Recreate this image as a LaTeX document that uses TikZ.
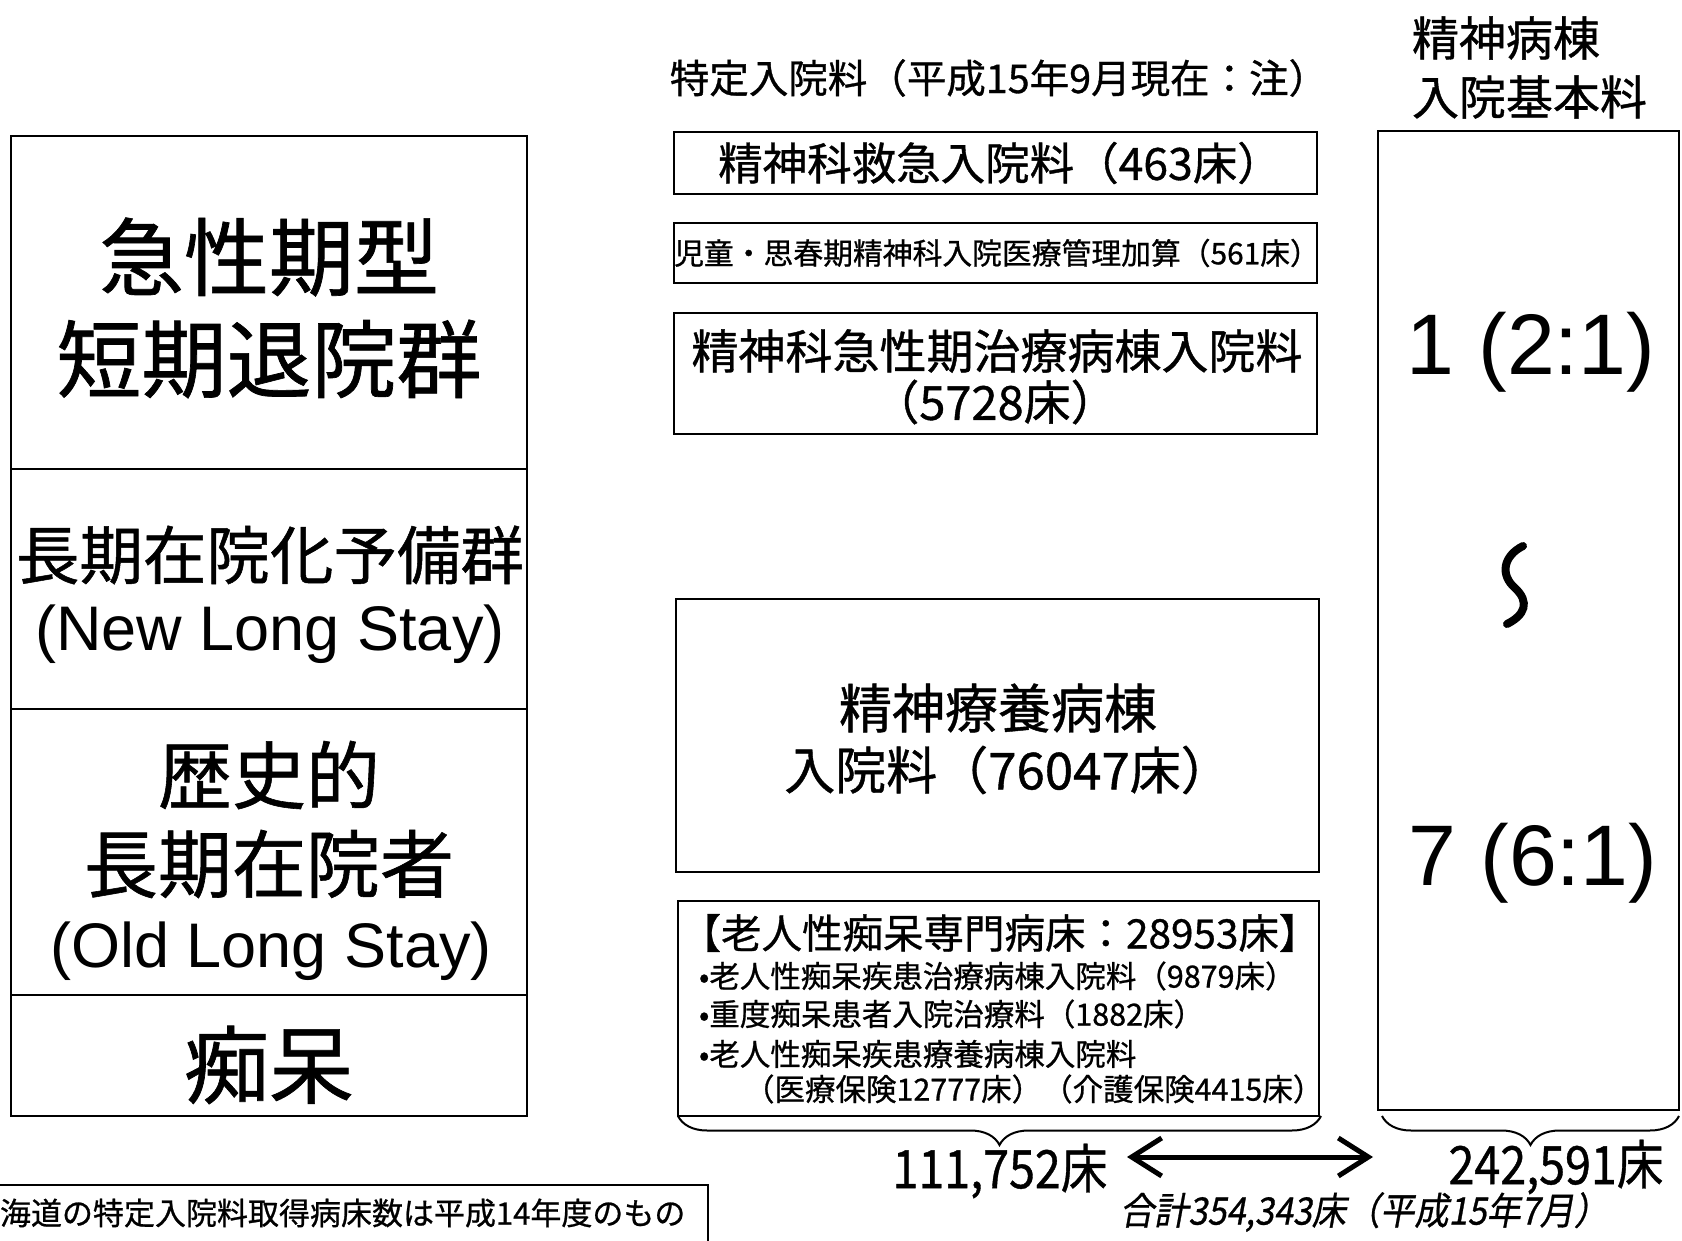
\documentclass[tikz,border=0pt]{standalone}
\usepackage{fontspec}
\setmainfont[FakeBold=0.8]{Noto Sans CJK JP}
\newfontfamily\arial{Liberation Sans}
\newfontfamily\jpit[FakeSlant=0.2,FakeBold=0.8]{Noto Sans CJK JP}
\usetikzlibrary{arrows.meta,decorations.pathreplacing}
\newcommand\fs[1]{\fontsize{#1}{#1}\selectfont}
\tikzset{
  cell/.style={draw, line width=2pt, inner sep=0pt, outer sep=0pt, anchor=north west},
  txt/.style={inner sep=0pt, outer sep=0pt, anchor=center},
  ltxt/.style={inner sep=0pt, outer sep=0pt, anchor=west},
  brc/.style={decorate, decoration={brace, mirror, amplitude=29pt}, line width=2pt},
  dbl/.style={{Straight Barb[length=30pt,width=38pt]}-{Straight Barb[length=30pt,width=38pt]}, line width=5pt}
}
\begin{document}
\begin{tikzpicture}[x=1pt,y=-1pt]
\useasboundingbox (0,0) rectangle (1682,1241);
% left column
\node[cell, minimum width=516pt, minimum height=333pt] (c1) at (11,136) {};
\node[cell, minimum width=516pt, minimum height=240pt] (c2) at (11,469) {};
\node[cell, minimum width=516pt, minimum height=286pt] (c3) at (11,709) {};
\node[cell, minimum width=516pt, minimum height=121pt] (c4) at (11,995) {};
\node[txt] (t1a) at (269,257) {\fs{85}急性期型};
\node[txt] (t1b) at (269,359) {\fs{85}短期退院群};
\node[txt] (t2a) at (270,555) {\fs{63.5}長期在院化予備群};
\node[txt] (t2b) at (270,634) {\arial\fs{63}(New Long Stay)};
\node[txt] (t3a) at (269,775) {\fs{74}歴史的};
\node[txt] (t3b) at (269,864) {\fs{74}長期在院者};
\node[txt] (t3c) at (271,951) {\arial\fs{63}(Old Long Stay)};
\node[txt] (t4) at (269,1065) {\fs{85}痴呆};
% middle column
\node[txt] (hm) at (999,78) {\fs{39.5}特定入院料（平成15年9月現在：注）};
\node[cell, minimum width=643pt, minimum height=62pt] (b1) at (674,132) {};
\node[txt] (b1t) at (1000,163) {\fs{44.5}精神科救急入院料（463床）};
\node[cell, minimum width=643pt, minimum height=60pt] (b2) at (674,223) {};
\node[txt] (b2t) at (997,253) {\fs{29.8}児童・思春期精神科入院医療管理加算（561床）};
\node[cell, minimum width=643pt, minimum height=121pt] (b3) at (674,313) {};
\node[txt] (b3a) at (997,351) {\fs{47}精神科急性期治療病棟入院料};
\node[txt] (b3b) at (995,402) {\fs{47}（5728床）};
\node[cell, minimum width=643pt, minimum height=273pt] (b4) at (676,599) {};
\node[txt] (b4a) at (998,708) {\fs{53}精神療養病棟};
\node[txt] (b4b) at (1008,770) {\fs{51}入院料（76047床）};
\node[cell, minimum width=641pt, minimum height=215pt] (b5) at (678,901) {};
\node[txt] (b5a) at (1000,933) {\fs{40.5}【老人性痴呆専門病床：28953床】};
\node[ltxt] (b5b) at (699,976) {\fs{30.5}•老人性痴呆疾患治療病棟入院料（9879床）};
\node[ltxt] (b5c) at (699,1014) {\fs{30.5}•重度痴呆患者入院治療料（1882床）};
\node[ltxt] (b5d) at (699,1054) {\fs{30.5}•老人性痴呆疾患療養病棟入院料};
\node[ltxt] (b5e) at (744,1089) {\fs{30.5}（医療保険12777床）（介護保険4415床）};
% right column
\node[ltxt] (hr1) at (1412,38) {\fs{47}精神病棟};
\node[ltxt] (hr2) at (1412,97) {\fs{47}入院基本料};
\node[cell, minimum width=301pt, minimum height=979pt] (rb) at (1378,131) {};
\node[txt] (r1) at (1531,352) {\arial\fs{86}1 (2:1)};
\node[txt] (r7) at (1533,863) {\arial\fs{86}7 (6:1)};
\draw[line width=8pt, line cap=round] (1523,546) .. controls (1503,556) and (1500,575) .. (1515,588) .. controls (1530,602) and (1525,615) .. (1507,624);
% bottom
\draw[brc] (678,1116) -- (1321,1116);
\draw[brc] (1382,1116) -- (1679,1116);
\node[txt] (n1) at (1000,1171) {\scalebox{0.88}[1]{\fs{53}111,752床}};
\node[txt] (n2) at (1556,1167) {\scalebox{0.88}[1]{\fs{53}242,591床}};
\coordinate (aL) at (1127,1157);
\coordinate (aR) at (1373,1157);
\draw[dbl] (aL) -- (aR);
\node[txt] (tot) at (1364,1212) {\scalebox{0.95}[1.05]{\jpit\fs{36}合計354,343床（平成15年7月）}};
% footnote
\node[cell, minimum width=718pt, minimum height=90pt] (fn) at (-10,1185) {};
\node[ltxt] (fnt) at (0,1213) {\fs{31}海道の特定入院料取得病床数は平成14年度のもの};
\end{tikzpicture}
\end{document}
